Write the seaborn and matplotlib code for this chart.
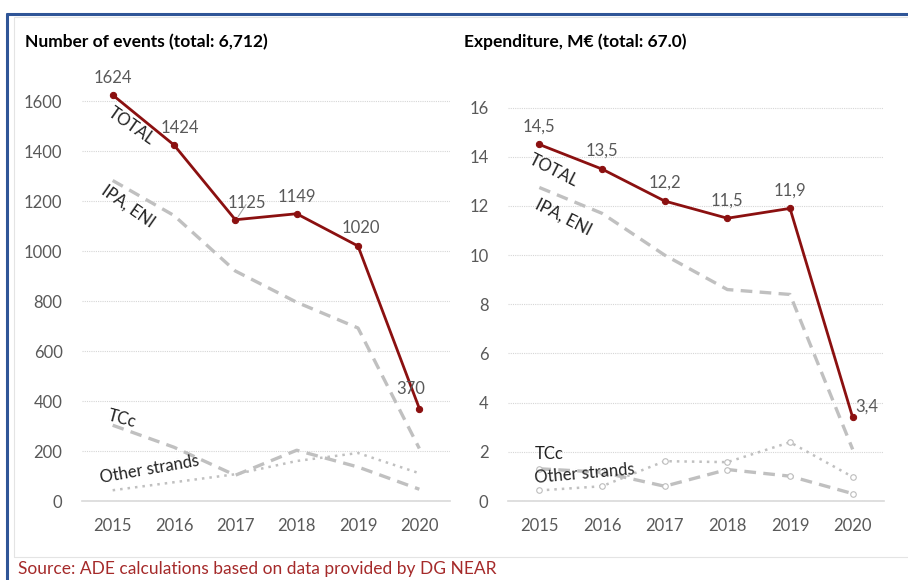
import matplotlib
matplotlib.use("Agg")
import matplotlib.pyplot as plt
import seaborn as sns
import pandas as pd
from matplotlib.patches import Rectangle

years = [2015, 2016, 2017, 2018, 2019, 2020]

# Number of events
ev_total = [1624, 1424, 1125, 1149, 1020, 370]
ev_ipa = [1282, 1142, 920, 795, 692, 210]
ev_tcc = [303, 215, 103, 203, 136, 47]
ev_other = [43, 75, 107, 160, 192, 111]

# Expenditure, M€
ex_total = [14.5, 13.5, 12.2, 11.5, 11.9, 3.4]
ex_ipa = [12.75, 11.7, 10.0, 8.6, 8.4, 2.1]
ex_tcc = [1.31, 1.17, 0.6, 1.28, 1.01, 0.3]
ex_other = [0.43, 0.6, 1.62, 1.58, 2.39, 0.98]

ev_labels = ["1624", "1424", "1125", "1149", "1020", "370"]
ex_labels = ["14,5", "13,5", "12,2", "11,5", "11,9", "3,4"]

sns.set_theme(style="white")
FONT = ["Lato", "DejaVu Sans"]
plt.rcParams["font.family"] = FONT

W, H = 908, 580
fig = plt.figure(figsize=(W / 100, H / 100), dpi=100)

RED = "#8B1010"
GREY = "#C0C0C0"
TXT = "#595959"


def fx(px):
    return px / W


def fy(py):
    return 1 - py / H


# frames
fig.patches.append(Rectangle((fx(14), fy(557)), fx(920 - 14), fy(17) - fy(557),
                             transform=fig.transFigure, fill=False,
                             edgecolor="#E4E4E4", linewidth=0.8))
fig.add_artist(plt.Line2D([fx(7), fx(7)], [fy(14), 0], transform=fig.transFigure,
                          color="#2F5597", linewidth=2.2))
fig.add_artist(plt.Line2D([fx(7), 1], [fy(14), fy(14)], transform=fig.transFigure,
                          color="#2F5597", linewidth=2.2))

ax1 = fig.add_axes([fx(82), fy(501), fx(450 - 82), fy(76) - fy(501)])
ax2 = fig.add_axes([fx(508), fy(501), fx(884 - 508), fy(83) - fy(501)])


def draw(ax, total, ipa, tcc, other, markers):
    df = pd.DataFrame({"year": years, "total": total, "ipa": ipa,
                       "tcc": tcc, "other": other})
    mk = dict(marker="o", markersize=4, markerfacecolor="white",
              markeredgecolor="#BDBDBD", markeredgewidth=0.8) if markers else {}
    sns.lineplot(data=df, x="year", y="ipa", ax=ax, color=GREY, linewidth=2.4,
                 linestyle=(0, (3.5, 2.2)))
    sns.lineplot(data=df, x="year", y="tcc", ax=ax, color=GREY, linewidth=2.4,
                 linestyle=(0, (3.5, 2.2)), **mk)
    sns.lineplot(data=df, x="year", y="other", ax=ax, color=GREY, linewidth=1.8,
                 linestyle=(0, (1, 2)), **mk)
    sns.lineplot(data=df, x="year", y="total", ax=ax, color=RED, linewidth=2.0,
                 marker="o", markersize=4.5, markeredgecolor=RED, markerfacecolor=RED)
    ax.set_xlim(2014.5, 2020.5)
    ax.set_xticks(years)
    ax.set_xticklabels([str(y) for y in years])
    ax.set_xlabel("")
    ax.set_ylabel("")
    for s in ["top", "right", "left"]:
        ax.spines[s].set_visible(False)
    ax.spines["bottom"].set_color("#D9D9D9")
    ax.spines["bottom"].set_linewidth(1.2)
    ax.tick_params(axis="both", length=0, labelsize=12, labelcolor=TXT)
    ax.tick_params(axis="x", pad=12)
    ax.tick_params(axis="y", pad=14)
    ax.grid(axis="y", color="#D6D6D6", linestyle=(0, (1, 1)), linewidth=0.8)
    ax.set_axisbelow(True)
    ax.patch.set_alpha(0)


draw(ax1, ev_total, ev_ipa, ev_tcc, ev_other, markers=False)
ax1.set_ylim(0, 1700)
ax1.set_yticks(range(0, 1601, 200))

draw(ax2, ex_total, ex_ipa, ex_tcc, ex_other, markers=True)
ax2.set_ylim(0, 17)
ax2.set_yticks(range(0, 17, 2))

# data labels (offsets in points)
ev_off = [(0, 12), (4, 12), (8, 12), (0, 12), (2, 13), (-6, 14)]
for x, v, lab, o in zip(years, ev_total, ev_labels, ev_off):
    ax1.annotate(lab, (x, v), xytext=o, textcoords="offset points",
                 ha="center", va="center", fontsize=12, color=TXT,
                 annotation_clip=False)
ax1.annotate("", xy=(2017.02, 1128), xytext=(2017.2, 1195),
             arrowprops=dict(arrowstyle="-", color="#A6A6A6", lw=0.8))

ex_off = [(0, 13), (0, 13), (0, 13), (0, 13), (0, 13), (10, 8)]
for x, v, lab, o in zip(years, ex_total, ex_labels, ex_off):
    ax2.annotate(lab, (x, v), xytext=o, textcoords="offset points",
                 ha="center", va="center", fontsize=12, color=TXT,
                 annotation_clip=False)

# series names
lab_kw = dict(fontsize=12, color="#222222", ha="center", va="center")
ax1.text(2015.3, 1500, "TOTAL", rotation=-35, **lab_kw)
ax1.text(2015.25, 1180, "IPA, ENI", rotation=-35, **lab_kw)
ax1.text(2015.15, 330, "TCc", rotation=-15, **lab_kw)
ax1.text(2015.6, 125, "Other strands", rotation=10, **lab_kw)

ax2.text(2015.22, 13.45, "TOTAL", rotation=-27, **lab_kw)
ax2.text(2015.38, 11.55, "IPA, ENI", rotation=-27, **lab_kw)
ax2.text(2015.15, 1.9, "TCc", rotation=0, **lab_kw)
ax2.text(2015.72, 1.1, "Other strands", rotation=5, **lab_kw)

# titles
fig.text(fx(25), fy(42), "Number of events (total: 6,712)", fontsize=12.5,
         fontweight="bold", color="black", ha="left", va="center")
fig.text(fx(464), fy(42), "Expenditure, M€ (total: 67.0)", fontsize=12.5,
         fontweight="bold", color="black", ha="left", va="center")

fig.text(fx(18), fy(577), "Source: ADE calculations based on data provided by DG NEAR",
         fontsize=12.5, color="#A52A2A", ha="left", va="bottom")

fig.savefig("out.png", dpi=100)
